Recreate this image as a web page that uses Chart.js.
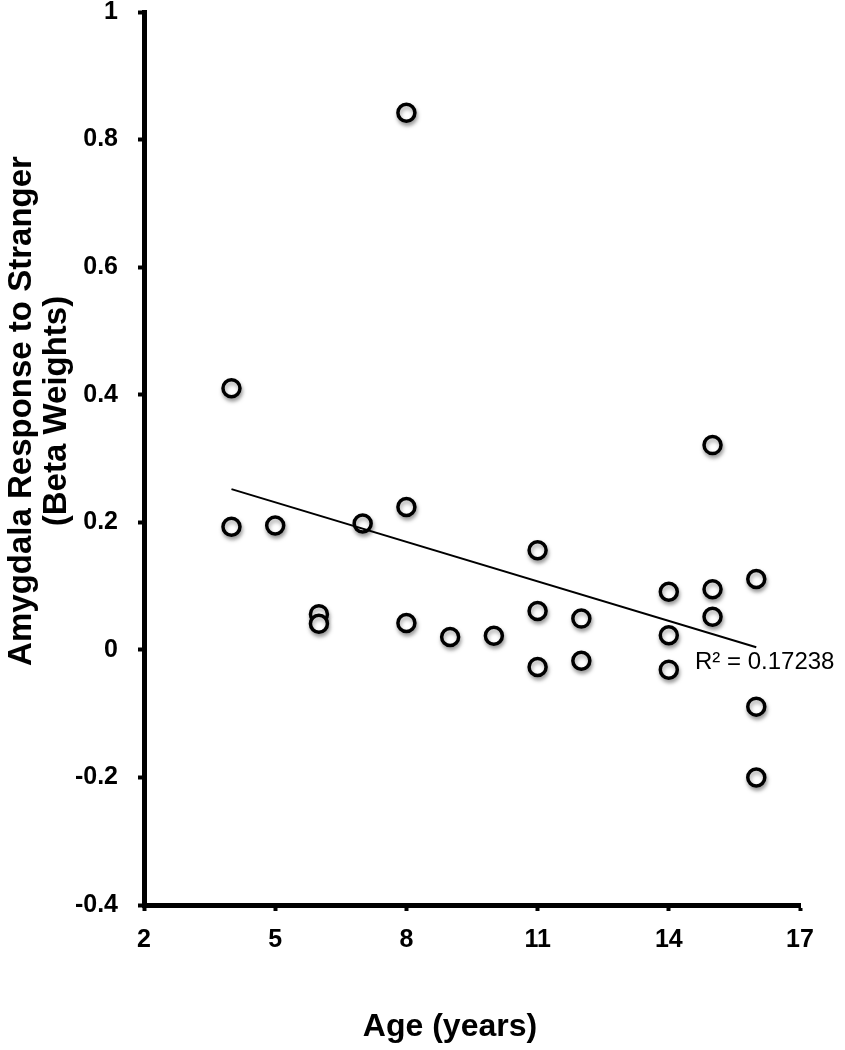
<!DOCTYPE html>
<html>
<head>
<meta charset="utf-8">
<script src="https://cdn.jsdelivr.net/npm/chart.js@4.4.1/dist/chart.umd.min.js"></script>
<style>
  html, body { margin: 0; padding: 0; background: #fff; }
  #wrap { width: 845px; height: 1050px; }
</style>
</head>
<body>
<div id="wrap"><canvas id="scatterChart"></canvas></div>
<script>
// ages and amygdala beta weights
var ages = [4, 4, 5, 6, 6, 7, 8, 8, 8, 9, 10, 11, 11, 11, 12, 12, 14, 14, 14, 15, 15, 15, 16, 16, 16];
var betas = [0.41, 0.193, 0.195, 0.056, 0.041, 0.198, 0.842, 0.224, 0.042, 0.020, 0.022, 0.156, 0.061, -0.027, 0.049, -0.017, 0.091, 0.023, -0.031, 0.321, 0.095, 0.052, 0.111, -0.089, -0.200];

// linear trendline endpoints
var trendAges = [4, 16];
var trendBetas = [0.252, 0.004];
var rSquaredLabel = 'R\u00B2 = 0.17238';

var xTicks = [2, 5, 8, 11, 14, 17];
var yTicks = [-0.4, -0.2, 0, 0.2, 0.4, 0.6, 0.8, 1];

var xTitle = 'Age (years)';
var yTitle = ['Amygdala Response to Stranger', '(Beta Weights)'];

var fontFamily = '"Liberation Sans", Arial, Helvetica, sans-serif';

var points = ages.map(function(a, i) { return { x: a, y: betas[i] }; });
var trend = trendAges.map(function(a, i) { return { x: a, y: trendBetas[i] }; });

var shadowPlugin = {
  id: 'pointShadow',
  beforeDatasetDraw: function(chart, args) {
    if (args.index !== 1) return;
    var ctx = chart.ctx;
    ctx.save();
    ctx.shadowColor = 'rgba(0,0,0,0.35)';
    ctx.shadowBlur = 4;
    ctx.shadowOffsetX = 1;
    ctx.shadowOffsetY = 3;
  },
  afterDatasetDraw: function(chart, args) {
    if (args.index !== 1) return;
    chart.ctx.restore();
  }
};

// R² note and axis titles, drawn on top
var textPlugin = {
  id: 'textLabels',
  afterDraw: function(chart) {
    var ctx = chart.ctx;
    ctx.save();
    ctx.fillStyle = '#000';
    ctx.textBaseline = 'middle';

    ctx.textAlign = 'left';
    ctx.font = '24px ' + fontFamily;
    ctx.fillText(rSquaredLabel, chart.scales.x.getPixelForValue(14.6), chart.scales.y.getPixelForValue(-0.019));

    ctx.textAlign = 'center';
    ctx.font = 'bold 32px ' + fontFamily;
    ctx.fillText(xTitle, 450, 1027);

    ctx.font = 'bold 33px ' + fontFamily;
    ctx.translate(0, 411);
    ctx.rotate(-Math.PI / 2);
    ctx.fillText(yTitle[0], 0, 22);
    ctx.fillText(yTitle[1], 0, 57);
    ctx.restore();
  }
};

var config = {
  type: 'scatter',
  data: {
    datasets: [{
      type: 'line',
      data: trend,
      borderColor: '#000',
      borderWidth: 2,
      pointRadius: 0,
      fill: false
    }, {
      data: points,
      backgroundColor: '#fff',
      borderColor: '#000',
      borderWidth: 3.5,
      pointRadius: 8.5,
      pointHoverRadius: 8.5
    }]
  },
  options: {
    responsive: true,
    maintainAspectRatio: false,
    animation: false,
    layout: { padding: { top: 12, right: 45, left: 0, bottom: 0 } },
    plugins: {
      legend: { display: false },
      tooltip: { enabled: false }
    },
    scales: {
      x: {
        type: 'linear',
        min: 2,
        max: 17,
        afterBuildTicks: function(scale) {
          scale.ticks = xTicks.map(function(v) { return { value: v }; });
        },
        afterFit: function(scale) { scale.height = 145; },
        border: { display: true, color: '#000', width: 5 },
        grid: { drawOnChartArea: false, color: '#000', tickLength: 6, tickWidth: 4 },
        ticks: {
          color: '#000',
          padding: 14,
          font: { family: fontFamily, size: 25, weight: 'bold' }
        }
      },
      y: {
        type: 'linear',
        min: -0.4,
        max: 1,
        afterBuildTicks: function(scale) {
          scale.ticks = yTicks.map(function(v) { return { value: v }; });
        },
        afterFit: function(scale) {
          scale.width = 144;
          scale.paddingTop = 0;
          scale.paddingBottom = 0;
        },
        border: { display: true, color: '#000', width: 5 },
        grid: { drawOnChartArea: false, color: '#000', tickLength: 6, tickWidth: 4 },
        ticks: {
          color: '#000',
          padding: 20,
          font: { family: fontFamily, size: 25, weight: 'bold' },
          callback: function(v) { return String(Math.round(v * 10) / 10); }
        }
      }
    }
  },
  plugins: [shadowPlugin, textPlugin]
};

var scatterChart = new Chart(document.getElementById('scatterChart'), config);
</script>
</body>
</html>
